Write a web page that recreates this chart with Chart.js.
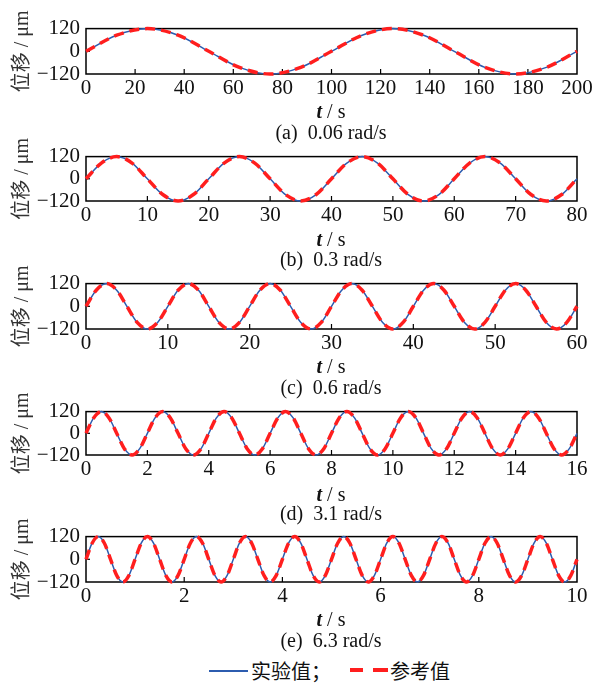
<!DOCTYPE html>
<html>
<head>
<meta charset="utf-8">
<script src="https://cdn.jsdelivr.net/npm/chart.js@4.4.1/dist/chart.umd.min.js"></script>
<style>
  html, body { margin: 0; padding: 0; background: #fff; }
  #wrap { position: relative; width: 598px; height: 684px; overflow: hidden; background: #fff; }
  canvas { position: absolute; left: 0; }
  .txt { position: absolute; left: 0; width: 662px; text-align: center; font-family: 'Liberation Serif', 'Times New Roman', serif; font-size: 20px; line-height: 20px; color: #111; white-space: pre; }
  .txt i { font-weight: bold; }
  .leg { position: absolute; font-family: 'Noto Sans CJK SC', sans-serif; font-size: 20px; line-height: 24px; color: #111; white-space: pre; }
  .sw { position: absolute; }
</style>
</head>
<body>
<div id="wrap">
  <canvas id="cA" width="598" height="94"></canvas>
  <canvas id="cB" width="598" height="93"></canvas>
  <canvas id="cC" width="598" height="94"></canvas>
  <canvas id="cD" width="598" height="92"></canvas>
  <canvas id="cE" width="598" height="94"></canvas>
</div>
<script>
// ---------------- data ----------------
const tA = [0,12.5,25,37.5,50,62.5,75,87.5,
            100,112.5,125,137.5,150,162.5,175,187.5,
            200];
const expA = [0,85,120,85,0,-85,-120,-85,
              0,85,120,85,0,-85,-120,-85,
              0];
const refA = [0,85,120,85,0,-85,-120,-85,
              0,85,120,85,0,-85,-120,-85,
              0];

const tB = [0,2.5,5,7.5,10,12.5,15,17.5,
            20,22.5,25,27.5,30,32.5,35,37.5,
            40,42.5,45,47.5,50,52.5,55,57.5,
            60,62.5,65,67.5,70,72.5,75,77.5,
            80];
const expB = [0,85,120,85,0,-85,-120,-85,
              0,85,120,85,0,-85,-120,-85,
              0,85,120,85,0,-85,-120,-85,
              0,85,120,85,0,-85,-120,-85,
              0];
const refB = [0,85,120,85,0,-85,-120,-85,
              0,85,120,85,0,-85,-120,-85,
              0,85,120,85,0,-85,-120,-85,
              0,85,120,85,0,-85,-120,-85,
              0];

const tC = [0,1.25,2.5,3.75,5,6.25,7.5,8.75,
            10,11.25,12.5,13.75,15,16.25,17.5,18.75,
            20,21.25,22.5,23.75,25,26.25,27.5,28.75,
            30,31.25,32.5,33.75,35,36.25,37.5,38.75,
            40,41.25,42.5,43.75,45,46.25,47.5,48.75,
            50,51.25,52.5,53.75,55,56.25,57.5,58.75,
            60];
const expC = [0,85,120,85,0,-85,-120,-85,
              0,85,120,85,0,-85,-120,-85,
              0,85,120,85,0,-85,-120,-85,
              0,85,120,85,0,-85,-120,-85,
              0,85,120,85,0,-85,-120,-85,
              0,85,120,85,0,-85,-120,-85,
              0];
const refC = [0,85,120,85,0,-85,-120,-85,
              0,85,120,85,0,-85,-120,-85,
              0,85,120,85,0,-85,-120,-85,
              0,85,120,85,0,-85,-120,-85,
              0,85,120,85,0,-85,-120,-85,
              0,85,120,85,0,-85,-120,-85,
              0];

const tD = [0,0.25,0.5,0.75,1,1.25,1.5,1.75,
            2,2.25,2.5,2.75,3,3.25,3.5,3.75,
            4,4.25,4.5,4.75,5,5.25,5.5,5.75,
            6,6.25,6.5,6.75,7,7.25,7.5,7.75,
            8,8.25,8.5,8.75,9,9.25,9.5,9.75,
            10,10.25,10.5,10.75,11,11.25,11.5,11.75,
            12,12.25,12.5,12.75,13,13.25,13.5,13.75,
            14,14.25,14.5,14.75,15,15.25,15.5,15.75,
            16];
const expD = [0,85,120,85,0,-85,-120,-85,
              0,85,120,85,0,-85,-120,-85,
              0,85,120,85,0,-85,-120,-85,
              0,85,120,85,0,-85,-120,-85,
              0,85,120,85,0,-85,-120,-85,
              0,85,120,85,0,-85,-120,-85,
              0,85,120,85,0,-85,-120,-85,
              0,85,120,85,0,-85,-120,-85,
              0];
const refD = [0,85,120,85,0,-85,-120,-85,
              0,85,120,85,0,-85,-120,-85,
              0,85,120,85,0,-85,-120,-85,
              0,85,120,85,0,-85,-120,-85,
              0,85,120,85,0,-85,-120,-85,
              0,85,120,85,0,-85,-120,-85,
              0,85,120,85,0,-85,-120,-85,
              0,85,120,85,0,-85,-120,-85,
              0];

const tE = [0,0.125,0.25,0.375,0.5,0.625,0.75,0.875,
            1,1.125,1.25,1.375,1.5,1.625,1.75,1.875,
            2,2.125,2.25,2.375,2.5,2.625,2.75,2.875,
            3,3.125,3.25,3.375,3.5,3.625,3.75,3.875,
            4,4.125,4.25,4.375,4.5,4.625,4.75,4.875,
            5,5.125,5.25,5.375,5.5,5.625,5.75,5.875,
            6,6.125,6.25,6.375,6.5,6.625,6.75,6.875,
            7,7.125,7.25,7.375,7.5,7.625,7.75,7.875,
            8,8.125,8.25,8.375,8.5,8.625,8.75,8.875,
            9,9.125,9.25,9.375,9.5,9.625,9.75,9.875,
            10];
const expE = [0,85,120,85,0,-85,-120,-85,
              0,85,120,85,0,-85,-120,-85,
              0,85,120,85,0,-85,-120,-85,
              0,85,120,85,0,-85,-120,-85,
              0,85,120,85,0,-85,-120,-85,
              0,85,120,85,0,-85,-120,-85,
              0,85,120,85,0,-85,-120,-85,
              0,85,120,85,0,-85,-120,-85,
              0,85,120,85,0,-85,-120,-85,
              0,85,120,85,0,-85,-120,-85,
              0];
const refE = [0,85,120,85,0,-85,-120,-85,
              0,85,120,85,0,-85,-120,-85,
              0,85,120,85,0,-85,-120,-85,
              0,85,120,85,0,-85,-120,-85,
              0,85,120,85,0,-85,-120,-85,
              0,85,120,85,0,-85,-120,-85,
              0,85,120,85,0,-85,-120,-85,
              0,85,120,85,0,-85,-120,-85,
              0,85,120,85,0,-85,-120,-85,
              0,85,120,85,0,-85,-120,-85,
              0];

const xTicksA = [0,20,40,60,80,100,120,140,160,180,200];
const xTicksB = [0,10,20,30,40,50,60,70,80];
const xTicksC = [0,10,20,30,40,50,60];
const xTicksD = [0,2,4,6,8,10,12,14,16];
const xTicksE = [0,2,4,6,8,10];
const yTickValues = [-120,0,120];
const yTickLabels = ['\u2212120','0','120'];

const captions = ['(a)  0.06 rad/s','(b)  0.3 rad/s','(c)  0.6 rad/s','(d)  3.1 rad/s','(e)  6.3 rad/s'];
const yTitle = '位移 / μm';
const seriesNames = ['实验值；','参考值'];

// ---------------- layout ----------------
const panels = [
  {id:'cA', t:tA, exp:expA, ref:refA, xt:xTicksA, top:25,  bottom:74},
  {id:'cB', t:tB, exp:expB, ref:refB, xt:xTicksB, top:153, bottom:201},
  {id:'cC', t:tC, exp:expC, ref:refC, xt:xTicksC, top:280, bottom:329},
  {id:'cD', t:tD, exp:expD, ref:refD, xt:xTicksD, top:408, bottom:455},
  {id:'cE', t:tE, exp:expE, ref:refE, xt:xTicksE, top:533, bottom:582}
];
const PAD_TOP = 15, X_H = 30, LEFT = 86, RIGHT = 577;
const BLUE = '#2c5caf', RED = '#ff1e1e';
const SERIF = "'Times New Roman', 'Liberation Serif', serif";
const SERIF_CJK = "'Times New Roman', 'Liberation Serif', 'Noto Sans CJK SC', serif";

const framePlugin = {
  id: 'frame',
  beforeDatasetsDraw(chart) {
    const {ctx, chartArea: {left, right, top, bottom}} = chart;
    ctx.save();
    ctx.strokeStyle = '#000';
    ctx.lineWidth = 1.5;
    ctx.strokeRect(left, top, right - left, bottom - top);
    ctx.lineWidth = 1.2;
    const xs = chart.scales.x;
    xs.ticks.forEach(tk => {
      const px = xs.getPixelForValue(tk.value);
      if (px > left + 2 && px < right - 2) {
        ctx.beginPath(); ctx.moveTo(px, bottom); ctx.lineTo(px, bottom - 5); ctx.stroke();
      }
    });
    const ys = chart.scales.y;
    ys.ticks.forEach(tk => {
      const py = ys.getPixelForValue(tk.value);
      if (py > top + 2 && py < bottom - 2) {
        ctx.beginPath(); ctx.moveTo(left, py); ctx.lineTo(left + 4, py); ctx.stroke();
      }
    });
    ctx.restore();
  }
};

const wrap = document.getElementById('wrap');

panels.forEach((p, idx) => {
  const h = PAD_TOP + (p.bottom - p.top) + X_H;
  const cv = document.getElementById(p.id);
  cv.height = h;
  cv.style.top = (p.top - PAD_TOP) + 'px';
  cv.style.width = '598px';
  cv.style.height = h + 'px';

  new Chart(cv, {
    type: 'line',
    data: {
      datasets: [
        {
          label: seriesNames[0],
          data: p.t.map((x, i) => ({x, y: p.exp[i]})),
          borderColor: BLUE, borderWidth: 1.5, pointRadius: 0,
          cubicInterpolationMode: 'monotone', fill: false, order: 2, clip: 4
        },
        {
          label: seriesNames[1],
          data: p.t.map((x, i) => ({x, y: p.ref[i]})),
          borderColor: RED, borderWidth: 3.5, borderDash: [10, 6], pointRadius: 0,
          cubicInterpolationMode: 'monotone', fill: false, order: 1, clip: 4
        }
      ]
    },
    options: {
      responsive: false,
      animation: false,
      devicePixelRatio: 1,
      layout: { padding: { top: PAD_TOP, right: 598 - RIGHT, left: 0, bottom: 0 } },
      plugins: { legend: { display: false }, tooltip: { enabled: false } },
      scales: {
        x: {
          type: 'linear',
          min: p.xt[0], max: p.xt[p.xt.length - 1],
          afterBuildTicks: s => { s.ticks = p.xt.map(v => ({value: v})); },
          afterFit: s => { s.height = X_H; },
          grid: { display: false, drawTicks: false },
          border: { display: false },
          ticks: { color: '#111', padding: 2, maxRotation: 0, autoSkip: false,
                   font: { family: SERIF, size: 21 } }
        },
        y: {
          type: 'linear',
          min: -120, max: 120,
          afterBuildTicks: s => { s.ticks = yTickValues.map(v => ({value: v})); },
          afterFit: s => { s.width = LEFT; },
          grid: { display: false, drawTicks: false },
          border: { display: false },
          ticks: { color: '#111', padding: 6, autoSkip: false,
                   font: { family: SERIF, size: 21 },
                   callback: (v) => yTickLabels[yTickValues.indexOf(v)] },
          title: { display: true, text: yTitle, color: '#333',
                   font: { family: SERIF_CJK, size: 20 }, padding: { top: 11, bottom: 0 } }
        }
      }
    },
    plugins: [framePlugin]
  });

  const xt = document.createElement('div');
  xt.className = 'txt';
  xt.style.top = (p.top + 76) + 'px';
  xt.innerHTML = '<i>t</i> / s';
  wrap.appendChild(xt);

  const cap = document.createElement('div');
  cap.className = 'txt';
  cap.style.top = (p.bottom + 48) + 'px';
  cap.textContent = captions[idx];
  wrap.appendChild(cap);
});

// legend
function addSw(x, y, w, hgt, color) {
  const d = document.createElement('div');
  d.className = 'sw';
  d.style.left = x + 'px'; d.style.top = y + 'px';
  d.style.width = w + 'px'; d.style.height = hgt + 'px';
  d.style.background = color;
  wrap.appendChild(d);
}
addSw(209, 670, 39, 1.5, BLUE);
addSw(350, 668, 13, 4, RED);
addSw(373, 668, 15, 4, RED);
const l1 = document.createElement('div');
l1.className = 'leg'; l1.style.left = '251px'; l1.style.top = '659px'; l1.textContent = seriesNames[0];
wrap.appendChild(l1);
const l2 = document.createElement('div');
l2.className = 'leg'; l2.style.left = '390px'; l2.style.top = '659px'; l2.textContent = seriesNames[1];
wrap.appendChild(l2);
</script>
</body>
</html>
